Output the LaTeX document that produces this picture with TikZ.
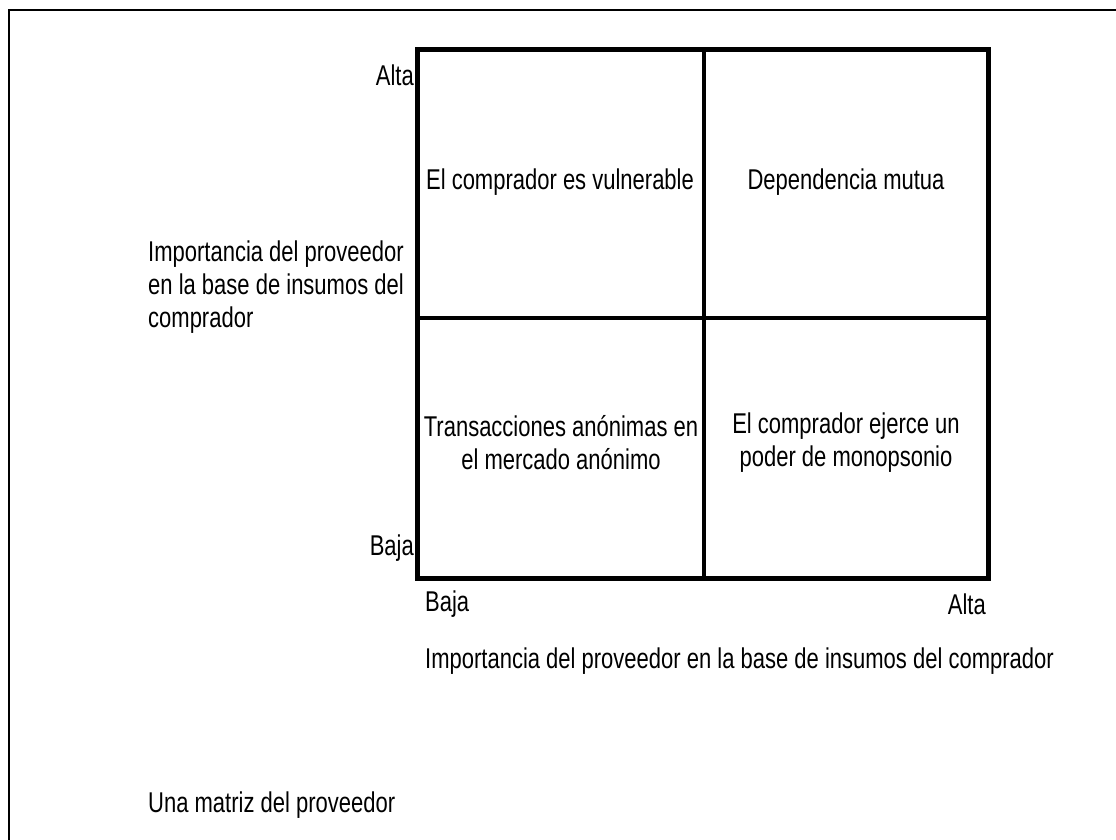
\documentclass[tikz,border=0pt]{standalone}
\usepackage{fontspec}
\setmainfont{Liberation Sans}
\begin{document}
\begin{tikzpicture}[x=1pt,y=-1pt,
  lbl/.style={inner sep=0pt,font=\fontsize{22}{25.4}\selectfont,yscale=1.3},
  cell/.style={lbl,align=center},
  outerline/.style={line width=5pt},
  innerline/.style={line width=4pt},
  frameline/.style={line width=2.5pt}]
\useasboundingbox (0,0) rectangle (1116,840);
\fill[white] (0,0) rectangle (1116,840);
% outer frame (continues past the right and bottom edges)
\coordinate (fbl) at (9,845);
\coordinate (ftl) at (9,10);
\coordinate (ftr) at (1121,10);
\draw[frameline] (fbl) -- (ftl) -- (ftr);
% matrix
\coordinate (tl) at (417,50);
\coordinate (br) at (988,578);
\coordinate (mt) at (704,50);
\coordinate (mb) at (704,578);
\coordinate (ml) at (417,318);
\coordinate (mr) at (988,318);
\draw[innerline] (mt) -- (mb);
\draw[innerline] (ml) -- (mr);
\draw[outerline] (tl) rectangle (br);
% cell texts
\node[cell] (c1) at (560,182) {El comprador es vulnerable};
\node[cell] (c2) at (846,182) {Dependencia mutua};
\node[cell] (c3) at (561,443) {Transacciones anónimas en\\el mercado anónimo};
\node[cell] (c4) at (846,443) {El comprador ejerce un\\poder de monopsonio};
% axis ticks
\node[lbl,anchor=east] (yalta) at (414,75) {Alta};
\node[lbl,anchor=east] (ybaja) at (414,548) {Baja};
\node[lbl,anchor=west] (xbaja) at (425,604) {Baja};
\node[lbl,anchor=east] (xalta) at (986,604) {Alta};
% axis titles
\node[lbl,anchor=west,align=left] (ytitle) at (148,287) {Importancia del proveedor\\en la base de insumos del\\comprador};
\node[lbl,anchor=west] (xtitle) at (425,661) {Importancia del proveedor en la base de insumos del comprador};
\node[lbl,anchor=west] (caption) at (148,805) {Una matriz del proveedor};
\end{tikzpicture}
\end{document}
